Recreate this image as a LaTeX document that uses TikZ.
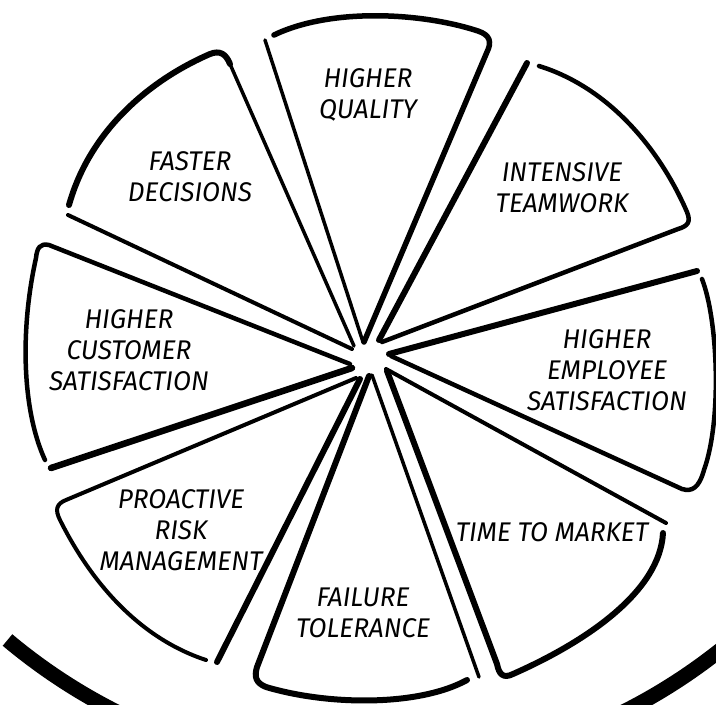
\documentclass[tikz,border=0pt]{standalone}
\usepackage{fontspec}
\setmainfont{Fira Sans}[FakeStretch=0.97]
\usepackage{tikz}

\begin{document}
\begin{tikzpicture}[x=1pt,y=-1pt,
   linea/.style={line width=#1,line cap=round,line join=round},
   rotulo/.style={font=\fontsize{27}{31}\selectfont\itshape,align=center},
   cascara/.style={line width=15pt}]
   \clip (0,0) rectangle (716,705);
   %cascara
   \draw[cascara] (7.5,640) arc[start angle=130,end angle=50,radius=564];
   %calidad
   \draw[linea=3.5] (265,40) -- (363,342);
   \draw[linea=5.5] (274,35) .. controls (330,8) and (420,12) .. (478,31)
      .. controls (490,35) and (492,42) .. (487,52) -- (364,342);
   %equipo
   \draw[linea=6] (527,63) -- (379,340);
   \draw[linea=4.5] (539,66) .. controls (610,88) and (660,150) .. (687,212)
      .. controls (691,222) and (688,226) .. (678,229) -- (382,342);
   %empleados
   \draw[linea=6] (697,271) -- (389,354);
   \draw[linea=4.5] (702,279) .. controls (718,320) and (722,420) .. (704,470)
      .. controls (699,488) and (692,492) .. (682,489) -- (391,356);
   %mercado
   \draw[linea=4] (386,369) -- (666,523);
   \draw[linea=6] (663,533) .. controls (660,590) and (590,640) .. (513,674)
      .. controls (503,679) and (499,674) .. (497,664) -- (387,371);
   %tolerancia
   \draw[linea=3.5] (372,375) -- (479,677);
   \draw[linea=6] (467,680) .. controls (420,706) and (330,706) .. (266,687)
      .. controls (256,683) and (254,677) .. (257,667) -- (369,376);
   %riesgo
   \draw[linea=6] (360,379) -- (217,662);
   \draw[linea=4] (356,378) -- (66,500) .. controls (56,504) and (55,510) .. (60,520)
      .. controls (95,590) and (145,640) .. (206,660);
   %clientes
   \draw[linea=4.5] (350,364) -- (49,245) .. controls (40,243) and (37,248) .. (36,258)
      .. controls (20,330) and (22,410) .. (45,460);
   \draw[linea=6.5] (352,368) -- (51,468);
   %decisiones
   \draw[linea=4] (352,349) -- (68,215);
   \draw[linea=6] (69,205) .. controls (90,130) and (150,80) .. (210,54)
      .. controls (220,50) and (226,54) .. (230,64);
   \draw[linea=3.5] (230,64) -- (354,346);
   %textos
   \node[rotulo] (calidad) at (368,95) {HIGHER\\QUALITY};
   \node[rotulo] (equipo) at (562,188) {INTENSIVE\\TEAMWORK};
   \node[rotulo] (empleados) at (607,370) {HIGHER\\EMPLOYEE\\SATISFACTION};
   \node[rotulo] (mercado) at (552,532) {TIME TO MARKET};
   \node[rotulo] (tolerancia) at (363,613) {FAILURE\\TOLERANCE};
   \node[rotulo] (riesgo) at (181,530) {PROACTIVE\\RISK\\MANAGEMENT};
   \node[rotulo] (clientes) at (129,350) {HIGHER\\CUSTOMER\\SATISFACTION};
   \node[rotulo] (decisiones) at (190,177) {FASTER\\DECISIONS};
\end{tikzpicture}
\end{document}
